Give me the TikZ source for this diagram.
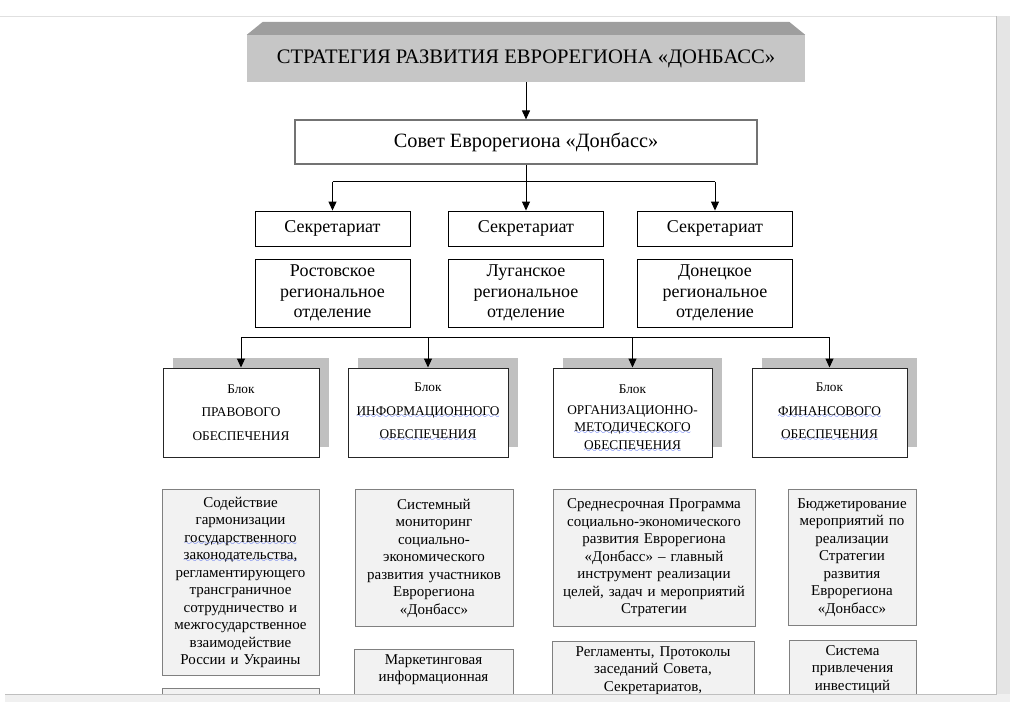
\documentclass[tikz,border=0pt]{standalone}
\usepackage{fontspec}
\setmainfont{Liberation Serif}
\usetikzlibrary{arrows.meta}
\usetikzlibrary{positioning}
\usetikzlibrary{shadows}

\definecolor{spellblue}{RGB}{40,70,235}
\definecolor{taskgray}{RGB}{242,242,242}
\definecolor{frontgray}{RGB}{198,198,198}
\definecolor{bevelgray}{RGB}{158,158,158}
\definecolor{shadowgray}{RGB}{192,192,192}

\font\spellfont=lasy10 at 9pt
\newcommand\spellwave[1]{\leavevmode\setbox0\hbox{#1}\rlap{\textcolor{spellblue}{\lower3pt\hbox to\wd0{\xleaders\hbox{\spellfont\char58}\hfill}}}\box0}

\begin{document}
\begin{tikzpicture}
	[x=1pt,y=-1pt,
	arr/.style={-{Triangle[length=9pt,width=8pt]},line width=1pt},
	conn/.style={line width=1pt},
	secbox/.style={draw=black,line width=0.9pt,minimum width=155pt,minimum height=35pt,inner sep=1pt,font=\fontsize{18}{20.7}\selectfont},
	regbox/.style={secbox,minimum height=68pt,text width=150pt,align=center},
	blockbox/.style={draw=black!85,fill=white,line width=1pt,minimum height=89pt,inner sep=1pt,align=center,
		font=\fontsize{13.3}{23.5}\selectfont,
		drop shadow={shadow xshift=10pt,shadow yshift=10pt,fill=shadowgray,opacity=1}},
	taskbox/.style={draw=black!50,fill=taskgray,line width=1pt,anchor=north,inner xsep=1pt,inner ysep=5pt,align=center,
		font=\fontsize{15}{17.5}\selectfont}]
	\useasboundingbox (0,0) rectangle (1026,710);
	\begin{scope}
	\clip (0,16) rectangle (996,694);
	% top of the scheme
	\node[fill=frontgray,minimum width=558pt,minimum height=47pt,inner sep=0pt,font=\fontsize{20.6}{23}\selectfont] (title) at (526,58.5) {СТРАТЕГИЯ РАЗВИТИЯ ЕВРОРЕГИОНА «ДОНБАСС»};
	\fill[bevelgray] (title.north west) -- ++(16,-13) -- ([xshift=-16pt,yshift=13pt]title.north east) -- (title.north east) -- cycle;
	\node[draw=black!55,line width=1.2pt,minimum width=462pt,minimum height=44pt,font=\fontsize{20.3}{23}\selectfont] (sovet) at (526,142) {Совет Еврорегиона «Донбасс»};
	\draw[arr] (title) -- (sovet);

	\node[secbox] (sec1) at (332.5,228.5) {Секретариат};
	\node[secbox] (sec2) at (526,228.5) {Секретариат};
	\node[secbox] (sec3) at (715,228.5) {Секретариат};
	\node[regbox] (reg1) at (332.5,293) {Ростовское\\региональное\\отделение};
	\node[regbox] (reg2) at (526,293) {Луганское\\региональное\\отделение};
	\node[regbox] (reg3) at (715,293) {Донецкое\\региональное\\отделение};

	\draw[conn] (sovet.south) -- ++(0,17) coordinate (secfork);
	\draw[conn] (sec1.north |- secfork) -- (sec3.north |- secfork);
	\foreach \s in {sec1,sec2,sec3}
		\draw[arr] (\s.north |- secfork) -- (\s.north);

	% blocks
	\node[blockbox,minimum width=156pt,text width=154pt] (blk1) at (241,412.5) {Блок\\ПРАВОВОГО\\ОБЕСПЕЧЕНИЯ};
	\node[blockbox,minimum width=160pt,text width=158pt] (blk2) at (428,412.5) {Блок\\\spellwave{ИНФОРМАЦИОННОГО}\\\spellwave{ОБЕСПЕЧЕНИЯ}};
	\node[blockbox,minimum width=159pt,text width=157pt,font=\fontsize{13.3}{17.5}\selectfont] (blk3) at (632.5,412.5) {\rule{0pt}{21pt}Блок\\[3pt]ОРГАНИЗАЦИОННО-\\\spellwave{МЕТОДИЧЕСКОГО}\\\spellwave{ОБЕСПЕЧЕНИЯ}};
	\node[blockbox,minimum width=155pt,text width=153pt] (blk4) at (829.5,412.5) {Блок\\\spellwave{ФИНАНСОВОГО}\\\spellwave{ОБЕСПЕЧЕНИЯ}};

	\coordinate (blkfork) at (0,337);
	\draw[conn] (blk1.north |- blkfork) -- (blk4.north |- blkfork);
	\foreach \b in {blk1,blk2,blk3,blk4}
		\draw[arr] (\b.north |- blkfork) -- (\b.north);

	% tasks
	\node[taskbox,text width=155pt,minimum height=186pt] (task1a) at (240.5,489) {Содействие\\гармонизации\\\spellwave{государственного}\\\spellwave{законодательства,}\\регламентирующего\\трансграничное\\сотрудничество и\\межгосударственное\\взаимодействие\\России и Украины};
	\node[taskbox,text width=155pt,minimum height=60pt] (task1b) at (240.5,688) {};
	\node[taskbox,text width=156pt,minimum height=137pt] (task2a) at (434,489) {Системный\\мониторинг\\социально-\\экономического\\развития участников\\Еврорегиона\\«Донбасс»};
	\node[taskbox,text width=157pt,text depth=80pt] (task2b) at (433.5,649) {Маркетинговая\\информационная};
	\node[taskbox,text width=200pt,minimum height=137pt] (task3a) at (654,489) {Среднесрочная Программа\\социально-экономического\\развития Еврорегиона\\«Донбасс» – главный\\инструмент реализации\\целей, задач и мероприятий\\Стратегии};
	\node[taskbox,text width=200pt,text depth=80pt] (task3b) at (653,641) {Регламенты, Протоколы\\заседаний Совета,\\Секретариатов,};
	\node[taskbox,text width=126pt,minimum height=136pt] (task4a) at (852,489) {Бюджетирование\\мероприятий по\\реализации\\Стратегии\\развития\\Еврорегиона\\«Донбасс»};
	\node[taskbox,text width=125pt,text depth=80pt] (task4b) at (852.5,640) {Система\\привлечения\\инвестиций};
	\end{scope}

	% window frame
	\draw[black!12] (0,16) -- (1010,16);
	\fill[black!10] (996,16) rectangle (1010,702);
	\fill[black!6] (5,694) rectangle (1010,702);
	\draw[black!25] (996,16) -- (996,694) -- (5,694);
\end{tikzpicture}
\end{document}
